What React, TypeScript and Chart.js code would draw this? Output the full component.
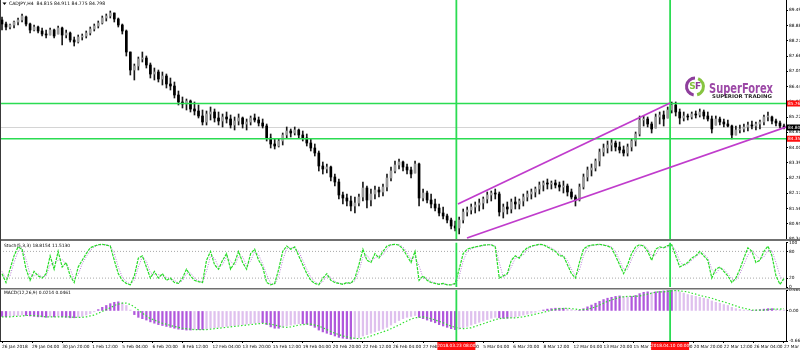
import React, { useEffect, useRef } from 'react';
import { Chart, registerables } from 'chart.js';

Chart.register(...registerables);

// ---------------- data ----------------
const opens = [89.10,88.94,88.82,88.90,89.02,89.10,89.22,88.94,88.70,88.82,
88.66,88.54,88.50,88.70,88.54,88.78,88.50,88.58,88.30,88.22,
88.42,88.46,88.58,88.74,88.86,88.98,89.18,89.26,89.38,89.14,
88.90,88.66,87.82,87.10,87.26,87.54,87.58,87.30,86.94,87.02,
86.74,86.86,86.54,86.46,86.10,85.82,85.74,85.86,85.54,85.46,
85.26,85.02,85.34,85.42,85.18,85.06,85.22,85.14,84.90,85.06,
85.18,84.94,85.02,85.18,85.10,84.98,84.86,84.38,84.14,84.06,
84.26,84.50,84.66,84.58,84.70,84.50,84.38,84.18,83.98,83.78,
83.26,83.14,83.22,82.82,82.62,82.10,81.98,81.86,81.66,81.78,
82.02,82.38,81.90,82.14,82.30,82.22,82.42,82.78,83.06,83.30,
83.42,83.22,83.10,82.98,83.34,81.98,82.18,81.90,81.74,81.58,
81.38,81.26,81.10,80.86,80.78,81.10,81.42,81.50,81.62,81.70,
81.78,81.94,82.10,82.18,82.14,81.42,81.62,81.54,81.82,81.74,
81.86,82.02,82.14,82.22,82.34,82.50,82.58,82.54,82.58,82.50,
82.42,82.46,82.22,82.02,81.90,82.42,82.82,83.10,83.18,83.46,
83.82,83.98,84.10,84.18,84.02,83.90,83.78,84.02,84.26,84.54,
85.10,85.14,84.94,84.78,85.22,85.30,85.18,85.50,85.70,85.42,
85.18,85.26,85.22,85.34,85.30,85.42,85.26,85.14,84.90,85.14,
85.02,84.94,84.86,84.50,84.70,84.74,84.82,84.90,84.86,84.94,
85.02,85.22,85.22,85.06,84.98,84.86];

const highs = [89.22,89.02,88.94,89.06,89.18,89.34,89.26,88.98,88.90,88.86,
88.78,88.70,88.78,88.74,88.86,88.82,88.70,88.62,88.42,88.50,
88.54,88.66,88.82,88.94,89.06,89.26,89.34,89.46,89.38,89.18,
88.94,88.70,87.82,87.34,87.62,87.82,87.66,87.38,87.18,87.10,
87.02,86.94,86.78,86.62,86.26,86.02,85.94,85.90,85.82,85.70,
85.50,85.46,85.62,85.54,85.42,85.34,85.42,85.30,85.22,85.34,
85.22,85.14,85.26,85.34,85.22,85.14,84.94,84.54,84.34,84.34,
84.58,84.82,84.74,84.82,84.74,84.66,84.54,84.34,84.14,83.86,
83.42,83.34,83.26,82.94,82.74,82.22,82.14,82.06,82.02,82.14,
82.62,82.46,82.34,82.46,82.42,82.54,82.94,83.22,83.46,83.54,
83.46,83.34,83.22,83.46,83.38,82.34,82.26,82.14,81.94,81.74,
81.62,81.34,81.18,81.06,81.22,81.54,81.62,81.74,81.82,81.94,
82.02,82.22,82.26,82.34,82.22,81.74,81.82,81.94,82.02,81.94,
82.14,82.26,82.34,82.42,82.62,82.66,82.74,82.66,82.70,82.62,
82.66,82.54,82.34,82.10,82.54,82.94,83.22,83.34,83.54,83.94,
84.14,84.26,84.34,84.26,84.22,84.06,84.14,84.34,84.62,85.26,
85.26,85.22,85.02,85.34,85.42,85.46,85.62,85.82,85.82,85.54,
85.42,85.34,85.42,85.46,85.54,85.50,85.42,85.26,85.26,85.22,
85.14,85.10,84.90,84.86,84.90,84.94,85.02,85.06,85.02,85.10,
85.30,85.42,85.26,85.14,85.06,84.94];

const lows = [88.70,88.70,88.74,88.78,88.90,89.02,88.86,88.58,88.66,88.58,
88.46,88.38,88.50,88.38,88.54,88.10,88.38,88.22,88.06,88.18,
88.30,88.38,88.50,88.66,88.78,88.94,89.06,89.18,89.02,88.82,
88.54,87.66,86.90,86.70,87.10,87.42,87.18,86.78,86.70,86.62,
86.50,86.38,86.30,85.98,85.70,85.58,85.50,85.42,85.30,85.18,
84.90,84.90,85.10,85.02,84.90,84.82,84.98,84.78,84.70,84.90,
84.78,84.70,84.90,85.02,84.86,84.78,84.26,83.98,83.94,84.02,
84.10,84.38,84.42,84.50,84.38,84.26,84.06,83.86,83.66,83.06,
82.94,82.98,82.66,82.46,81.94,81.74,81.66,81.46,81.38,81.66,
81.86,81.58,81.66,81.94,82.02,82.06,82.26,82.66,82.98,83.14,
83.06,82.94,82.78,82.98,81.66,81.86,81.78,81.58,81.46,81.26,
81.14,80.98,80.74,80.66,80.54,80.98,81.26,81.34,81.38,81.46,
81.54,81.78,81.86,81.94,81.26,81.18,81.34,81.38,81.54,81.54,
81.66,81.86,81.94,82.02,82.14,82.26,82.34,82.34,82.38,82.26,
82.18,82.06,81.94,81.66,81.86,82.34,82.66,82.86,83.06,83.26,
83.66,83.78,83.86,83.86,83.78,83.66,83.66,83.86,84.06,84.46,
84.86,84.82,84.58,84.78,84.94,84.86,85.18,85.38,85.26,84.94,
85.06,85.10,85.14,85.18,85.22,85.14,85.06,84.58,84.90,84.90,
84.82,84.82,84.34,84.50,84.58,84.62,84.66,84.74,84.70,84.74,
84.90,85.06,84.94,84.86,84.78,84.74];

const closes = [88.94,88.82,88.90,89.02,89.10,89.26,88.94,88.70,88.82,88.66,
88.54,88.50,88.70,88.46,88.78,88.50,88.58,88.30,88.22,88.42,
88.46,88.58,88.74,88.86,88.98,89.18,89.26,89.38,89.14,88.90,
88.66,87.82,87.10,87.26,87.54,87.58,87.30,86.94,87.02,86.74,
86.86,86.54,86.46,86.10,85.82,85.74,85.86,85.54,85.46,85.26,
85.02,85.34,85.42,85.18,85.06,85.22,85.14,84.90,85.06,85.18,
84.94,85.02,85.18,85.10,84.98,84.86,84.38,84.14,84.06,84.26,
84.50,84.66,84.58,84.70,84.50,84.38,84.18,83.98,83.78,83.26,
83.14,83.22,82.82,82.62,82.10,81.98,81.86,81.66,81.78,82.02,
82.38,81.90,82.14,82.30,82.22,82.42,82.78,83.06,83.30,83.42,
83.22,83.10,82.94,83.34,81.98,82.18,81.90,81.74,81.58,81.38,
81.26,81.10,80.86,80.78,81.10,81.42,81.50,81.62,81.70,81.78,
81.94,82.10,82.18,82.14,81.42,81.62,81.54,81.82,81.74,81.86,
82.02,82.14,82.22,82.34,82.50,82.58,82.54,82.58,82.50,82.42,
82.46,82.22,82.02,81.90,82.42,82.82,83.10,83.18,83.46,83.82,
83.98,84.10,84.18,84.02,83.90,83.78,84.02,84.26,84.54,85.10,
85.14,84.94,84.74,85.22,85.30,85.14,85.50,85.70,85.42,85.18,
85.26,85.22,85.34,85.30,85.42,85.26,85.14,84.74,85.14,85.02,
84.94,84.86,84.50,84.70,84.74,84.82,84.90,84.86,84.94,85.02,
85.22,85.26,85.06,84.98,84.86,84.80];

const stochMain = [30,10,40,70,90,85,40,15,35,25,
20,30,70,40,80,45,55,25,10,45,
60,75,88,92,95,96,94,92,60,30,
15,8,5,25,65,70,45,20,35,20,
30,15,20,10,8,20,40,25,15,12,
10,60,80,50,40,60,75,40,55,80,
55,40,75,85,60,45,10,5,8,40,
80,92,85,90,70,50,30,15,8,5,
20,30,15,10,8,6,10,8,20,50,
85,60,55,75,65,80,92,95,96,94,
85,70,55,80,15,25,15,10,8,6,
8,5,5,8,40,75,85,88,90,92,
94,95,95,90,20,25,30,60,70,65,
80,88,92,94,96,95,90,85,80,70,
70,50,30,20,55,85,92,94,95,96,
94,92,88,70,50,30,50,75,90,95,
92,80,60,85,90,88,93,95,70,45,
50,55,65,70,80,70,60,20,40,45,
35,25,10,20,40,65,88,80,55,60,
80,92,70,25,6,19];

const stochSignal = [35,20,25,55,80,88,62,28,25,30,
22,25,50,55,60,62,50,40,18,28,
52,68,82,90,94,95,95,93,76,45,
22,12,6,15,45,68,58,32,28,28,
25,22,18,15,9,14,30,32,20,14,
11,35,70,65,45,50,68,58,48,68,
68,48,58,80,72,52,28,8,6,24,
60,86,88,88,80,60,40,22,12,6,
12,25,22,12,9,7,8,9,14,35,
68,72,58,65,70,72,86,94,96,95,
90,78,62,68,48,20,20,12,9,7,
7,6,5,6,24,58,80,86,89,91,
93,94,95,92,55,22,28,45,65,68,
72,84,90,93,95,95,92,88,82,75,
70,60,40,25,38,70,88,93,94,95,
95,93,90,80,60,40,40,62,82,92,
94,86,70,72,88,89,90,94,82,58,
48,52,60,68,75,75,65,40,30,42,
40,30,18,15,30,50,72,82,72,62,
68,82,82,55,25,12];

const macdMain = [-0.12,-0.13,-0.12,-0.11,-0.10,-0.09,-0.10,-0.11,-0.12,-0.13,
-0.13,-0.14,-0.13,-0.13,-0.12,-0.13,-0.14,-0.15,-0.15,-0.14,
-0.12,-0.09,-0.06,-0.02,0.03,0.08,0.12,0.16,0.19,0.20,
0.18,0.12,0.02,-0.08,-0.14,-0.17,-0.20,-0.24,-0.27,-0.30,
-0.32,-0.34,-0.36,-0.38,-0.40,-0.41,-0.42,-0.42,-0.41,-0.41,
-0.41,-0.40,-0.38,-0.37,-0.36,-0.35,-0.34,-0.33,-0.32,-0.31,
-0.30,-0.29,-0.28,-0.27,-0.26,-0.26,-0.30,-0.35,-0.38,-0.38,
-0.36,-0.33,-0.31,-0.29,-0.28,-0.28,-0.29,-0.32,-0.36,-0.42,
-0.46,-0.49,-0.52,-0.55,-0.58,-0.60,-0.61,-0.62,-0.61,-0.59,
-0.55,-0.52,-0.49,-0.46,-0.43,-0.40,-0.36,-0.31,-0.26,-0.21,
-0.17,-0.14,-0.12,-0.10,-0.14,-0.17,-0.20,-0.23,-0.26,-0.30,
-0.33,-0.36,-0.39,-0.41,-0.40,-0.37,-0.34,-0.31,-0.28,-0.25,
-0.22,-0.19,-0.16,-0.14,-0.15,-0.16,-0.16,-0.15,-0.13,-0.11,
-0.09,-0.07,-0.05,-0.03,0.00,0.02,0.04,0.05,0.06,0.06,
0.06,0.05,0.03,0.01,0.02,0.05,0.09,0.13,0.17,0.21,
0.25,0.28,0.30,0.32,0.33,0.32,0.31,0.32,0.34,0.38,
0.41,0.42,0.41,0.42,0.43,0.44,0.45,0.46,0.45,0.42,
0.39,0.36,0.34,0.32,0.30,0.28,0.26,0.22,0.19,0.17,
0.14,0.12,0.08,0.05,0.03,0.02,0.01,0.01,0.02,0.03,
0.04,0.05,0.05,0.04,0.03,0.02];

const macdSignal = [-0.13,-0.13,-0.13,-0.12,-0.12,-0.11,-0.10,-0.10,-0.10,-0.11,
-0.12,-0.13,-0.13,-0.13,-0.13,-0.13,-0.13,-0.13,-0.14,-0.14,
-0.14,-0.13,-0.11,-0.09,-0.05,-0.01,0.03,0.07,0.12,0.15,
0.17,0.17,0.14,0.09,0.02,-0.05,-0.11,-0.17,-0.20,-0.24,
-0.27,-0.29,-0.32,-0.34,-0.36,-0.38,-0.39,-0.40,-0.41,-0.41,
-0.41,-0.41,-0.40,-0.39,-0.38,-0.37,-0.36,-0.35,-0.34,-0.33,
-0.32,-0.31,-0.30,-0.29,-0.28,-0.27,-0.28,-0.29,-0.31,-0.33,
-0.35,-0.36,-0.35,-0.33,-0.31,-0.30,-0.29,-0.29,-0.31,-0.33,
-0.37,-0.41,-0.45,-0.49,-0.52,-0.55,-0.57,-0.59,-0.60,-0.61,
-0.60,-0.58,-0.55,-0.52,-0.49,-0.46,-0.43,-0.39,-0.35,-0.31,
-0.26,-0.22,-0.18,-0.15,-0.14,-0.13,-0.15,-0.17,-0.20,-0.23,
-0.26,-0.30,-0.33,-0.36,-0.38,-0.39,-0.38,-0.37,-0.34,-0.31,
-0.28,-0.25,-0.22,-0.19,-0.17,-0.16,-0.15,-0.15,-0.15,-0.14,
-0.13,-0.11,-0.09,-0.07,-0.05,-0.03,-0.01,0.02,0.03,0.05,
0.05,0.06,0.05,0.04,0.03,0.03,0.04,0.06,0.09,0.13,
0.17,0.21,0.24,0.27,0.30,0.31,0.32,0.32,0.32,0.33,
0.35,0.37,0.39,0.41,0.42,0.42,0.43,0.44,0.45,0.44,
0.43,0.42,0.39,0.37,0.34,0.32,0.30,0.28,0.25,0.22,
0.20,0.17,0.14,0.11,0.08,0.06,0.04,0.02,0.02,0.02,
0.02,0.03,0.04,0.04,0.04,0.05];

const priceTicks = [80.34, 80.95, 81.56, 82.17, 82.78, 83.39, 84.0, 84.61, 85.22, 85.83, 86.44, 87.05, 87.66, 88.27, 88.88, 89.49];
const levelPrices = [85.76, 84.35];
const lastPrice = 84.8;
const markerBars = [113.3, 166.6];
const markerLabels = ['2018.03.23 08:00', '2018.04.10 00:00'];
const upperChannel = [{ x: 113.7, y: 81.74 }, { x: 166.6, y: 85.78 }];
const lowerChannel = [{ x: 115.95, y: 80.38 }, { x: 195.5, y: 84.82 }];
const stochLevels = [20, 80];
const stochTicks = [0, 20, 80, 100];
const macdTicks = [-0.66, 0, 0.46];
const macdTickLabels = ['-0.6602', '0.00', '0.4603'];
const timeTickIdx = [0, 7.5, 15, 22.5, 30, 37.5, 45, 52.5, 60, 67.5, 75, 82.5, 90, 97.5, 105, 112.5, 120, 127.5, 135, 142.5, 150, 157.5, 165, 172.5, 180, 187.5, 195];
const timeTickLabels = ['26 Jan 2018', '29 Jan 04:00', '30 Jan 20:00', '1 Feb 12:00', '5 Feb 04:00', '6 Feb 20:00', '8 Feb 12:00', '12 Feb 04:00', '13 Feb 20:00', '15 Feb 12:00', '19 Feb 04:00', '20 Feb 20:00', '22 Feb 12:00', '26 Feb 04:00', '27 Feb 20:00', '1 Mar 12:00', '5 Mar 04:00', '6 Mar 20:00', '8 Mar 12:00', '12 Mar 04:00', '13 Mar 20:00', '15 Mar 12:00', '19 Mar 04:00', '20 Mar 20:00', '22 Mar 12:00', '26 Mar 04:00', '27 Mar 20:00'];
const titleText = 'CADJPY,H4  84.815 84.911 84.775 84.798';
const stochTitle = 'Stoch(5,3,3) 18.8154 11.5130';
const macdTitle = 'MACD(12,26,9) 0.0214 0.0461';

// ---------------- styling / geometry ----------------
const FONT = '"DejaVu Sans", "Liberation Sans", sans-serif';
const tiny = (px: number) => `${px}px ${FONT}`;
const X_MIN = -0.5;
const X_MAX = 195.5;
const Y_MIN = 80.26;
const Y_MAX = 89.9;
const AXIS_W = 14;
const GREEN = '#2bdc52';
const MAGENTA = '#c03ccc';
const idx = opens.map((_, i) => i);

Chart.defaults.font.family = FONT;

function fixY(scale: any) {
  scale.width = AXIS_W;
  scale.paddingTop = 0;
  scale.paddingBottom = 0;
}

function lineDs(data: any[], color: string, width: number, order: number, dash: number[] = []) {
  return {
    type: 'line',
    data,
    borderColor: color,
    borderWidth: width,
    borderDash: dash,
    pointRadius: 0,
    tension: 0,
    fill: false,
    order,
  };
}

function leftBorder(ctx: CanvasRenderingContext2D, h: number) {
  ctx.fillStyle = '#3a3a3a';
  ctx.fillRect(0, 0, 1, h);
}

function yAxis(min: number, max: number, ticks: number[], label: (v: number) => string) {
  return {
    position: 'right',
    min,
    max,
    afterFit: fixY,
    afterBuildTicks: (s: any) => {
      s.ticks = ticks.map((v) => ({ value: v }));
    },
    ticks: {
      callback: (v: number) => label(v),
      font: { size: 4.3, family: FONT },
      color: '#000',
      padding: 1,
      autoSkip: false,
    },
    grid: { drawOnChartArea: false, tickLength: 2, color: '#000' },
    border: { display: true, color: '#000', width: 1 },
  };
}

const xHidden = { type: 'linear', min: X_MIN, max: X_MAX, display: false, offset: false, grid: { offset: false } };

const baseOptions = {
  responsive: false,
  animation: false,
  devicePixelRatio: 1,
  events: [],
  plugins: { legend: { display: false }, tooltip: { enabled: false }, title: { display: false } },
};

function drawLogo(ctx: CanvasRenderingContext2D) {
  const cx = 695;
  const cy = 86.5;
  ctx.lineWidth = 3;
  ctx.strokeStyle = '#8e3e9c';
  ctx.beginPath();
  ctx.arc(cx, cy, 8.5, Math.PI * 0.55, Math.PI * 1.5);
  ctx.stroke();
  ctx.strokeStyle = '#86c440';
  ctx.beginPath();
  ctx.arc(cx, cy, 8.5, Math.PI * 1.62, Math.PI * 0.42);
  ctx.stroke();
  ctx.font = `bold 9px ${FONT}`;
  ctx.textAlign = 'center';
  ctx.textBaseline = 'middle';
  ctx.fillStyle = '#86c440';
  ctx.fillText('S', cx - 2.6, cy + 0.5);
  ctx.fillStyle = '#8e3e9c';
  ctx.fillText('F', cx + 3.0, cy + 0.5);
  ctx.textAlign = 'left';
  ctx.textBaseline = 'alphabetic';
  ctx.font = 'bold 14px "Liberation Sans Narrow", "DejaVu Sans Condensed", sans-serif';
  const word = 'SuperForex';
  const w = ctx.measureText(word).width;
  ctx.save();
  ctx.translate(709, 92.5);
  ctx.scale(64 / w, 1);
  ctx.fillStyle = '#9c48a6';
  ctx.fillText(word, 0, 0);
  ctx.restore();
  ctx.font = `bold 5px ${FONT}`;
  const sub = 'SUPERIOR TRADING';
  const w2 = ctx.measureText(sub).width;
  ctx.save();
  ctx.translate(712, 97.5);
  ctx.scale(60 / w2, 1);
  ctx.fillStyle = '#2a2a2a';
  ctx.fillText(sub, 0, 0);
  ctx.restore();
}

const mainOverlay = {
  id: 'mainOverlay',
  afterDraw(chart: any) {
    const { ctx } = chart;
    const y = chart.scales.y;
    ctx.save();
    ctx.fillStyle = '#000';
    ctx.beginPath();
    ctx.moveTo(2.5, 2.5);
    ctx.lineTo(6.5, 2.5);
    ctx.lineTo(4.5, 5);
    ctx.closePath();
    ctx.fill();
    ctx.font = tiny(4.6);
    ctx.textBaseline = 'middle';
    ctx.textAlign = 'left';
    ctx.fillText(titleText, 9, 4);
    const tag = (p: number, bg: string) => {
      const py = y.getPixelForValue(p);
      ctx.fillStyle = bg;
      ctx.fillRect(787, py - 3, 13, 6);
      ctx.fillStyle = '#fff';
      ctx.font = tiny(4.3);
      ctx.fillText(p.toFixed(2), 788, py + 0.3);
    };
    levelPrices.forEach((p) => tag(p, '#ff1010'));
    tag(lastPrice, '#000');
    drawLogo(ctx);
    leftBorder(ctx, chart.height);
    ctx.restore();
  },
};

const stochOverlay = {
  id: 'stochOverlay',
  afterDraw(chart: any) {
    const { ctx } = chart;
    ctx.save();
    ctx.fillStyle = '#707070';
    ctx.fillRect(0, 0, 800, 2);
    ctx.fillStyle = '#000';
    ctx.font = tiny(4.4);
    ctx.textBaseline = 'middle';
    ctx.textAlign = 'left';
    ctx.fillText(stochTitle, 4, 6.5);
    leftBorder(ctx, chart.height);
    ctx.restore();
  },
};

const macdOverlay = {
  id: 'macdOverlay',
  afterDraw(chart: any) {
    const { ctx } = chart;
    const x = chart.scales.x;
    ctx.save();
    ctx.fillStyle = '#707070';
    ctx.fillRect(0, 0, 800, 1.5);
    ctx.fillStyle = '#000';
    ctx.font = tiny(4.4);
    ctx.textBaseline = 'middle';
    ctx.textAlign = 'left';
    ctx.fillText(macdTitle, 4, 4.5);
    markerBars.forEach((v, k) => {
      const px = x.getPixelForValue(v);
      ctx.fillStyle = '#ff1010';
      ctx.fillRect(px - 19, 54, 38, 8);
      ctx.fillStyle = '#fff';
      ctx.font = tiny(4.3);
      ctx.textAlign = 'center';
      ctx.fillText(markerLabels[k], px, 58.2);
    });
    leftBorder(ctx, chart.height - 10);
    ctx.restore();
  },
};

export default function App() {
  const mainRef = useRef<HTMLCanvasElement>(null);
  const stochRef = useRef<HTMLCanvasElement>(null);
  const macdRef = useRef<HTMLCanvasElement>(null);

  useEffect(() => {
    const charts: Chart[] = [];

    const mainCfg: any = {
      type: 'bar',
      data: {
        datasets: [
          lineDs([{ x: X_MIN, y: lastPrice }, { x: X_MAX, y: lastPrice }], '#d4d4d4', 1, 20),
          {
            type: 'bar',
            data: idx.map((i) => ({ x: i, y: [lows[i], highs[i]] })),
            backgroundColor: '#1a1a1a',
            barThickness: 1,
            grouped: false,
            order: 12,
          },
          {
            type: 'bar',
            data: idx.map((i) => ({ x: i, y: [opens[i], closes[i]] })),
            backgroundColor: idx.map((i) => (closes[i] >= opens[i] ? '#9a9a9a' : '#000000')),
            borderWidth: 0,
            barThickness: 2,
            grouped: false,
            order: 11,
          },
          ...levelPrices.map((p) => lineDs([{ x: X_MIN, y: p }, { x: X_MAX, y: p }], GREEN, 1.6, 3)),
          ...markerBars.map((v) => lineDs([{ x: v, y: Y_MIN }, { x: v, y: Y_MAX }], GREEN, 1.8, 3)),
          lineDs(upperChannel, MAGENTA, 1.8, 1),
          lineDs(lowerChannel, MAGENTA, 1.8, 1),
        ],
      },
      options: {
        ...baseOptions,
        layout: { padding: 0 },
        scales: {
          x: xHidden,
          y: yAxis(Y_MIN, Y_MAX, priceTicks, (v) => v.toFixed(2)),
        },
      },
      plugins: [mainOverlay],
    };

    const stochCfg: any = {
      type: 'line',
      data: {
        datasets: [
          ...stochLevels.map((l) => lineDs([{ x: X_MIN, y: l }, { x: X_MAX, y: l }], '#a8a8a8', 1, 10, [1, 2])),
          ...markerBars.map((v) => lineDs([{ x: v, y: 0 }, { x: v, y: 100 }], GREEN, 1.8, 1)),
          lineDs(idx.map((i) => ({ x: i, y: stochSignal[i] })), '#b77ad6', 1, 3, [1, 1.5]),
          lineDs(idx.map((i) => ({ x: i, y: stochMain[i] })), '#27dc27', 1.2, 2, [3, 1]),
        ],
      },
      options: {
        ...baseOptions,
        layout: { padding: { top: 3.5, bottom: 2, left: 0, right: 0 } },
        scales: {
          x: xHidden,
          y: yAxis(0, 100, stochTicks, (v) => String(v)),
        },
      },
      plugins: [stochOverlay],
    };

    const macdCfg: any = {
      type: 'bar',
      data: {
        datasets: [
          {
            type: 'bar',
            data: idx.map((i) => ({ x: i, y: macdMain[i] })),
            backgroundColor: idx.map((i) =>
              i > 0 && Math.abs(macdMain[i]) < Math.abs(macdMain[i - 1]) ? '#dfc0ee' : '#b058dc'
            ),
            barThickness: 1.6,
            grouped: false,
            order: 5,
          },
          ...markerBars.map((v) => lineDs([{ x: v, y: -0.66 }, { x: v, y: 0.46 }], GREEN, 1.8, 1)),
          lineDs(idx.map((i) => ({ x: i, y: macdSignal[i] })), '#2fe02f', 1.2, 2, [1.5, 2]),
        ],
      },
      options: {
        ...baseOptions,
        layout: { padding: { top: 2, bottom: 0, left: 0, right: 0 } },
        scales: {
          x: {
            type: 'linear',
            min: X_MIN,
            max: X_MAX,
            offset: false,
            position: 'bottom',
            afterBuildTicks: (s: any) => {
              s.ticks = timeTickIdx.map((v) => ({ value: v }));
            },
            afterFit: (s: any) => {
              s.height = 10;
              s.paddingLeft = 0;
              s.paddingRight = 0;
            },
            ticks: {
              callback: (v: number) => {
                const k = timeTickIdx.indexOf(v);
                return k >= 0 ? timeTickLabels[k] : '';
              },
              autoSkip: false,
              maxRotation: 0,
              minRotation: 0,
              align: 'start',
              font: { size: 4.3, family: FONT },
              color: '#000',
              padding: 1,
            },
            grid: { drawOnChartArea: false, tickLength: 2, color: '#000', offset: false },
            border: { display: true, color: '#000', width: 1 },
          },
          y: yAxis(-0.66, 0.46, macdTicks, (v) => {
            const k = macdTicks.indexOf(v);
            return k >= 0 ? macdTickLabels[k] : '';
          }),
        },
      },
      plugins: [macdOverlay],
    };

    if (mainRef.current) charts.push(new Chart(mainRef.current, mainCfg));
    if (stochRef.current) charts.push(new Chart(stochRef.current, stochCfg));
    if (macdRef.current) charts.push(new Chart(macdRef.current, macdCfg));
    return () => charts.forEach((c) => c.destroy());
  }, []);

  const cv = (top: number, h: number): React.CSSProperties => ({
    position: 'absolute',
    left: 0,
    top,
    width: 800,
    height: h,
  });

  return (
    <div style={{ position: 'absolute', left: 0, top: 0, width: 800, height: 351, background: '#fff', overflow: 'hidden' }}>
      <canvas ref={mainRef} width={800} height={241} style={cv(0, 241)} />
      <canvas ref={stochRef} width={800} height={50} style={cv(239, 50)} />
      <canvas ref={macdRef} width={800} height={63} style={cv(288, 63)} />
    </div>
  );
}
